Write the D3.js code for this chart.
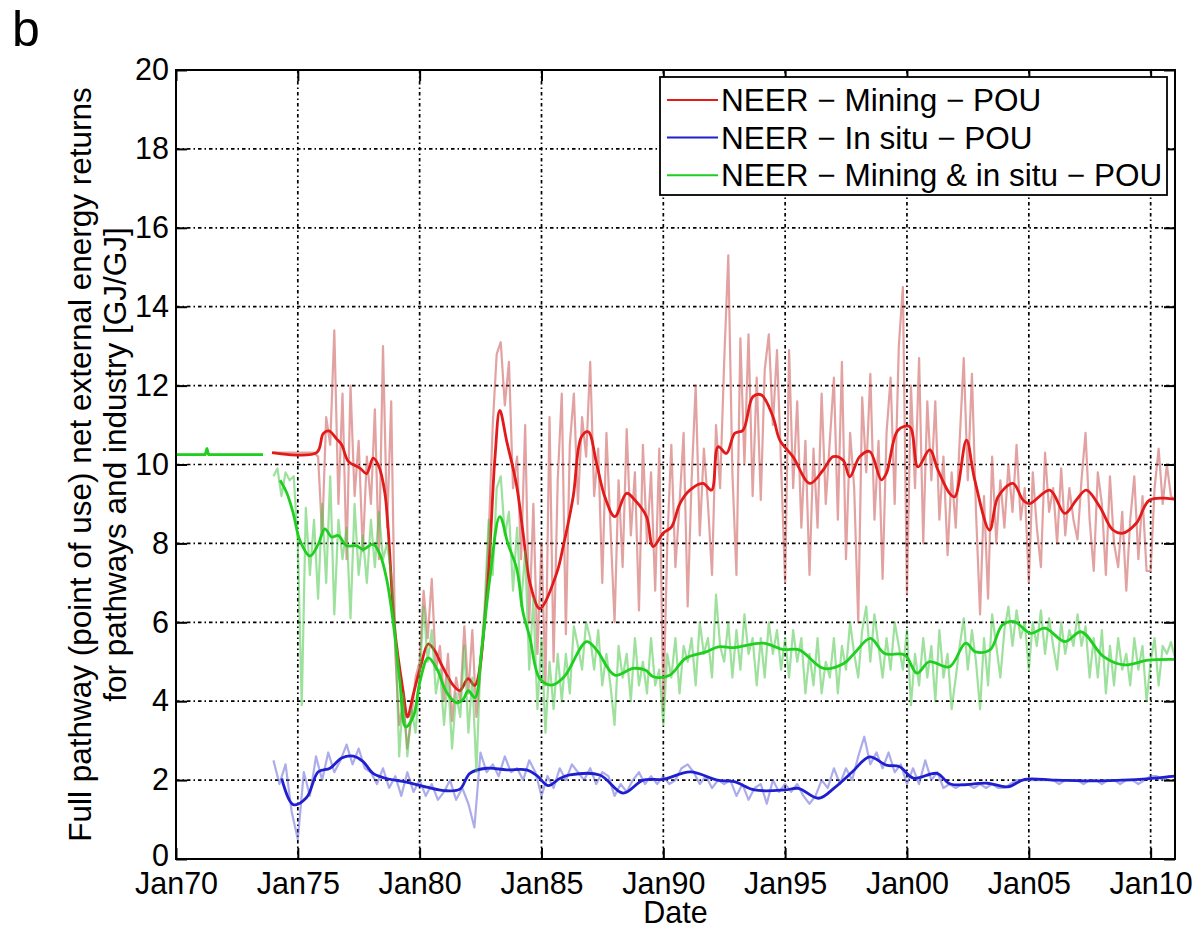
<!DOCTYPE html>
<html><head><meta charset="utf-8">
<script src="https://cdn.jsdelivr.net/npm/d3@7"></script>
<style>
body{margin:0;background:#fff;}
text{font-family:"Liberation Sans",Arial,Helvetica,sans-serif;fill:#000;}
</style></head>
<body>
<svg id="chart" width="1198" height="928"></svg>
<script>
// ---------------- DATA ----------------
const xTickYears = [1970,1975,1980,1985,1990,1995,2000,2005,2010];
const yTicks = [0,2,4,6,8,10,12,14,16,18,20];
const legendLabels = ["NEER \u2212 Mining \u2212 POU","NEER \u2212 In situ \u2212 POU","NEER \u2212 Mining & in situ \u2212 POU"];

// early flat segment (1970 - mid 1973), shared by mining & combined
const earlyFlat = [[1970.0,10.25],[1971.2,10.25],[1971.27,10.4],[1971.34,10.25],[1973.57,10.25]];

// raw bimonthly series starting Jan 1974
const rawStart = [1974,0];
const redRaw = [
10.3,10.3,10.3,10.3,10.3,10.3,
10.3,10.3,10.3,10.3,10.3,10.2,
8.2,11.2,10.5,13.4,9.0,11.8,
7.6,12.0,9.2,10.6,7.8,10.2,
9.0,11.4,7.6,13.0,8.4,11.6,
5.2,3.4,4.0,2.8,3.6,4.6,
5.0,6.8,5.6,7.1,4.8,5.4,
4.0,5.2,3.5,4.6,4.0,5.9,
4.2,5.8,3.6,4.8,6.0,8.2,
11.0,12.8,13.1,11.5,12.6,9.4,
10.2,7.6,11.0,6.0,9.0,5.2,
8.0,4.4,11.2,5.0,9.6,11.8,
5.7,10.5,11.8,9.0,11.2,10.2,
12.6,9.2,10.4,7.0,10.8,8.4,
6.0,9.6,7.4,10.9,8.2,9.8,
6.3,10.5,8.0,9.8,6.8,10.4,
3.8,8.0,10.5,7.4,9.0,10.8,
6.4,9.6,12.0,8.2,10.4,9.0,
7.2,11.0,9.4,12.6,15.3,9.8,
7.2,13.2,10.0,13.3,9.2,12.2,
9.1,12.4,13.3,11.0,12.9,10.0,
7.0,12.9,9.4,11.6,8.4,10.6,
7.2,10.4,8.4,11.8,9.0,10.6,
12.2,8.6,12.6,7.6,10.8,9.4,
6.0,11.7,9.8,12.3,8.6,10.6,
7.1,10.8,12.2,9.0,13.0,14.5,
6.7,12.0,9.4,12.7,8.0,11.6,
9.6,11.6,8.6,10.2,7.7,9.8,
8.4,10.6,12.7,9.6,12.3,8.8,
6.2,9.2,6.6,10.2,8.0,9.6,
8.4,10.0,8.8,10.5,8.6,9.4,
7.0,9.8,8.4,7.4,10.3,8.8,
9.4,8.0,9.9,8.2,9.4,8.6,
8.1,9.6,10.8,8.6,7.3,9.8,
9.0,7.2,9.7,8.0,7.4,8.8,
6.8,8.6,9.7,7.6,9.2,7.3,
7.3,9.4,10.4,9.0,10.0,9.2,
9.1];
const greenRaw = [
9.7,9.9,9.2,9.8,9.6,9.7,
8.0,3.9,8.9,7.2,8.6,6.6,
9.0,7.0,9.7,6.2,8.6,7.6,
8.4,6.1,9.0,7.2,8.2,7.0,
8.6,7.4,8.8,7.6,8.0,7.2,
5.8,2.6,4.2,2.6,3.8,3.2,
4.6,6.4,5.0,5.8,4.2,4.8,
3.4,4.6,2.8,4.2,3.6,5.4,
3.2,4.6,2.2,5.0,6.4,8.6,
7.2,9.4,9.7,8.2,8.8,6.8,
8.4,6.4,7.8,4.8,6.6,3.8,
5.6,3.2,5.0,3.8,5.2,4.0,
5.2,4.2,5.9,5.4,4.8,6.0,
5.6,4.8,5.8,4.4,5.2,4.4,
3.4,5.4,4.6,5.2,4.0,5.6,
4.4,5.0,4.2,5.6,4.4,4.8,
3.4,5.2,4.6,5.6,4.2,5.4,
5.0,5.6,4.4,6.0,5.2,5.6,
4.6,6.7,5.4,5.0,6.0,4.6,
5.8,4.8,6.2,5.2,5.6,4.4,
5.6,4.6,6.0,5.2,5.8,4.8,
5.6,4.6,5.8,5.0,5.6,4.2,
5.2,4.4,5.6,4.2,5.0,4.6,
5.6,4.2,5.4,4.8,6.0,5.2,
4.6,5.8,6.4,5.0,6.2,5.4,
4.6,5.6,4.8,6.0,5.4,4.8,
5.8,3.9,5.2,4.4,5.6,4.6,
5.4,4.0,5.8,4.6,5.2,3.8,
4.6,5.4,6.1,4.8,5.8,5.0,
3.8,5.6,4.4,6.2,5.4,4.6,
5.8,6.4,5.4,6.3,5.6,6.0,
4.8,6.0,5.4,6.3,5.2,6.1,
5.4,4.8,6.0,5.2,5.8,5.4,
6.2,5.4,5.9,4.6,5.6,4.6,
5.8,4.2,5.4,4.4,5.6,4.8,
5.2,4.4,5.6,4.8,5.4,4.0,
5.0,5.6,4.4,5.4,5.2,5.5,
5.1];
// raw quarterly series starting Jan 1974
const blueRaw = [
2.5,1.9,2.4,1.2,
0.5,2.2,1.6,2.6,
2.0,2.7,2.2,2.5,
2.9,2.4,2.8,2.3,
2.2,1.9,2.3,1.8,
2.1,1.6,2.2,1.7,
2.0,1.6,1.9,1.5,
1.7,2.0,1.5,1.8,
1.4,0.8,2.7,2.2,
2.4,2.1,2.6,2.2,
2.3,2.0,2.5,2.2,
1.6,2.1,1.8,2.3,
2.0,2.4,2.2,2.0,
2.3,1.9,2.2,2.1,
1.6,1.9,1.7,2.0,
2.2,1.9,2.1,1.9,
2.1,1.9,2.0,2.3,
2.4,2.2,1.9,2.1,
1.8,2.0,1.9,2.0,
1.6,1.9,1.5,1.8,
1.9,1.4,2.0,1.7,
1.9,1.7,1.9,1.6,
1.4,1.6,2.0,1.8,
2.3,1.9,2.3,2.0,
2.6,3.1,2.4,2.7,
2.3,2.7,2.2,2.4,
1.9,2.3,1.9,2.5,
2.0,2.2,1.8,1.9,
1.8,1.9,1.9,1.8,
1.9,1.8,1.9,1.8,
1.8,1.9,2.0,2.0,
2.0,2.0,2.0,2.0,
2.0,1.9,2.0,2.0,
2.0,1.9,2.0,2.0,
1.9,2.0,2.0,1.9,
2.0,2.0,1.9,2.0,
2.1,2.1,2.0,2.1,
2.1];

// smoothed series: [decimal year, value]
const redSmooth = [[1973.94,10.3],[1975.77,10.3],[1976.04,10.78],[1976.28,10.85],[1976.59,10.65],[1976.80,10.5],[1977.07,10.08],[1977.55,9.91],[1977.82,9.77],[1978.09,10.16],[1978.30,9.99],[1978.57,9.29],[1978.98,5.8],[1979.33,4.22],[1979.50,3.6],[1979.75,4.2],[1980.05,4.9],[1980.35,5.45],[1980.63,5.27],[1980.90,4.92],[1981.38,4.40],[1981.65,4.27],[1981.99,4.57],[1982.26,4.40],[1982.75,6.67],[1983.09,10.16],[1983.29,11.37],[1983.57,10.6],[1983.98,9.47],[1984.25,8.24],[1984.52,7.02],[1984.93,6.35],[1985.62,7.24],[1985.89,7.92],[1986.30,9.18],[1986.64,10.7],[1986.92,10.83],[1987.26,10.03],[1987.60,9.18],[1988.01,8.68],[1988.49,9.27],[1988.83,9.1],[1989.31,8.68],[1989.58,7.92],[1989.99,8.26],[1990.34,8.42],[1990.68,9.01],[1991.09,9.35],[1991.63,9.52],[1991.98,9.35],[1992.25,10.45],[1992.59,10.28],[1992.93,10.79],[1993.27,10.87],[1993.68,11.72],[1994.03,11.76],[1994.50,11.21],[1994.78,10.62],[1995.32,10.2],[1996.01,9.52],[1996.56,9.86],[1996.97,10.2],[1997.38,10.11],[1997.65,9.69],[1998.06,10.2],[1998.47,10.33],[1998.95,9.61],[1999.16,9.78],[1999.63,10.87],[2000.11,10.96],[2000.45,9.94],[2000.93,10.37],[2001.27,9.86],[2001.75,9.27],[2001.96,9.18],[2002.44,10.62],[2002.78,9.61],[2003.39,8.34],[2003.74,9.18],[2004.35,9.52],[2004.76,9.1],[2005.04,9.01],[2005.86,9.35],[2006.48,8.76],[2006.95,9.1],[2007.36,9.35],[2007.91,8.93],[2008.45,8.34],[2008.86,8.26],[2009.41,8.51],[2009.96,9.1],[2010.98,9.12]];
const blueSmooth = [[1974.34,2.04],[1974.81,1.38],[1975.36,1.56],[1975.84,2.21],[1976.32,2.3],[1976.80,2.56],[1977.27,2.61],[1977.68,2.47],[1978.09,2.17],[1978.64,2.04],[1979.46,1.95],[1980.29,1.82],[1981.11,1.73],[1981.65,1.77],[1982.06,2.17],[1982.75,2.3],[1983.57,2.26],[1984.39,2.26],[1984.80,2.12],[1985.27,1.86],[1985.75,2.04],[1986.16,2.13],[1987.39,2.13],[1988.35,1.67],[1989.17,2.0],[1990.0,2.02],[1991.11,2.21],[1992.22,2.0],[1992.91,1.96],[1993.74,1.75],[1994.99,1.75],[1995.54,1.79],[1996.38,1.54],[1997.07,1.83],[1997.76,2.21],[1998.46,2.59],[1999.15,2.38],[1999.70,2.34],[2000.26,2.05],[2001.23,2.17],[2001.78,1.9],[2003.30,1.92],[2004.14,1.83],[2004.83,2.02],[2006.08,2.0],[2007.88,1.98],[2009.96,2.04],[2010.98,2.1]];
const greenSmooth = [[1974.27,9.6],[1974.54,9.29],[1974.81,8.77],[1975.09,8.07],[1975.50,7.68],[1975.84,7.98],[1976.11,8.37],[1976.39,8.16],[1976.66,8.2],[1977.00,7.94],[1977.41,7.94],[1977.68,7.85],[1978.09,7.98],[1978.37,7.72],[1978.64,7.11],[1978.92,5.97],[1979.19,4.49],[1979.42,3.35],[1979.74,3.61],[1980.01,4.49],[1980.35,5.1],[1980.70,4.83],[1981.11,4.22],[1981.52,3.96],[1981.79,4.05],[1981.99,4.27],[1982.27,4.09],[1982.54,5.27],[1982.88,7.11],[1983.29,8.68],[1983.63,7.98],[1983.98,7.37],[1984.25,6.23],[1984.52,5.62],[1984.93,4.57],[1985.43,4.41],[1985.93,4.62],[1986.85,5.51],[1987.26,5.3],[1988.01,4.66],[1988.76,4.83],[1989.26,4.79],[1989.59,4.62],[1990.26,4.66],[1990.92,5.09],[1991.76,5.25],[1992.26,5.38],[1992.92,5.36],[1994.09,5.47],[1994.92,5.31],[1995.58,5.3],[1996.58,4.83],[1997.42,4.96],[1997.83,5.21],[1998.50,5.59],[1999.08,5.21],[1999.91,5.17],[2000.41,4.71],[2000.91,5.0],[2001.74,4.87],[2002.41,5.47],[2002.82,5.25],[2003.41,5.3],[2003.91,5.93],[2004.40,6.02],[2005.07,5.72],[2005.66,5.85],[2006.49,5.51],[2007.15,5.76],[2008.07,5.13],[2008.90,4.92],[2009.90,5.04],[2010.98,5.06]];

// ---------------- CHART ----------------
const svg = d3.select("#chart");
const L=176, R=1175, T=70, B=859;
const FONT = 30.5;

function yearToDate(yv){
  const yr = Math.floor(yv);
  const s = new Date(yr,0,1), e = new Date(yr+1,0,1);
  return new Date(+s + (yv-yr)*(e-s));
}
const x = d3.scaleTime().domain([new Date(1970,0,1), new Date(2011,0,1)]).range([L,R]);
const y = d3.scaleLinear().domain([0,20]).range([B,T]);

const xTickDates = xTickYears.map(v=>new Date(v,0,1));

// grid
const grid = svg.append("g").attr("stroke","#000").attr("stroke-width",1.7)
  .attr("stroke-dasharray","3.5,3,1.5,3");
grid.selectAll("line.v").data(xTickDates.slice(1)).join("line")
  .attr("x1",d=>x(d)).attr("x2",d=>x(d)).attr("y1",T).attr("y2",B);
grid.selectAll("line.h").data(yTicks.slice(1,-1)).join("line")
  .attr("x1",L).attr("x2",R).attr("y1",d=>y(d)).attr("y2",d=>y(d));

// series
const rawDate = (i,step)=>d3.timeMonth.offset(new Date(rawStart[0],rawStart[1],1), i*step);
const lineRaw = d3.line().x(d=>x(d[0])).y(d=>y(d[1]));
const lineSmooth = d3.line().x(d=>x(d[0])).y(d=>y(d[1])).curve(d3.curveCatmullRom.alpha(0.5));
const redRawPts = redRaw.map((v,i)=>[rawDate(i,2),v]);
const greenRawPts = greenRaw.map((v,i)=>[rawDate(i,2),v]);
const blueRawPts = blueRaw.map((v,i)=>[rawDate(i,3),v]);
const toPts = arr => arr.map(d=>[yearToDate(d[0]), d[1]]);

const plot = svg.append("g");
function path(gen, pts, color, w, op){
  plot.append("path").attr("d",gen(pts)).attr("fill","none")
    .attr("stroke",color).attr("stroke-width",w).attr("stroke-opacity",op)
    .attr("stroke-linejoin","round");
}
path(lineRaw, redRawPts, "rgb(200,70,70)", 2.2, 0.5);
path(lineSmooth, toPts(redSmooth), "#e31a1a", 2.8, 1);
path(lineRaw, blueRawPts, "rgb(90,90,215)", 2.2, 0.5);
path(lineSmooth, toPts(blueSmooth), "#1f1fd0", 2.8, 1);
path(lineRaw, toPts(earlyFlat), "rgb(60,200,60)", 2.2, 0.5);
path(lineRaw, greenRawPts, "rgb(60,195,60)", 2.2, 0.5);
path(lineRaw, toPts(earlyFlat), "#1fcf1f", 2.8, 1);
path(lineSmooth, toPts(greenSmooth), "#1fcf1f", 2.8, 1);

// axes
const TK = 11;
const axB = svg.append("g").attr("transform",`translate(0,${B})`)
  .call(d3.axisBottom(x).tickValues(xTickDates).tickFormat(d3.timeFormat("Jan%y")).tickSizeInner(-TK).tickSizeOuter(0).tickPadding(13));
const axT = svg.append("g").attr("transform",`translate(0,${T})`)
  .call(d3.axisTop(x).tickValues(xTickDates).tickFormat("").tickSizeInner(-TK).tickSizeOuter(0));
const axLft = svg.append("g").attr("transform",`translate(${L},0)`)
  .call(d3.axisLeft(y).tickValues(yTicks).tickSizeInner(-TK).tickSizeOuter(0).tickPadding(7));
const axRt = svg.append("g").attr("transform",`translate(${R},0)`)
  .call(d3.axisRight(y).tickValues(yTicks).tickFormat("").tickSizeInner(-TK).tickSizeOuter(0));
[axB,axT,axLft,axRt].forEach(a=>{
  a.select(".domain").remove();
  a.selectAll(".tick line").attr("stroke","#000").attr("stroke-width",2);
  a.selectAll("text").attr("font-size",FONT).attr("font-family",null).attr("fill","#000");
});
// lift the "0" label slightly, as in the reference
axLft.selectAll(".tick text").filter(d=>d===0).attr("dy","0.2em");
svg.append("rect").attr("x",L).attr("y",T).attr("width",R-L).attr("height",B-T)
  .attr("fill","none").attr("stroke","#000").attr("stroke-width",2);

// axis titles
svg.append("text").attr("x",(L+R)/2).attr("y",923).attr("text-anchor","middle")
  .attr("font-size",FONT).text("Date");
const yt = svg.append("text").attr("transform",`translate(0,${(T+B)/2}) rotate(-90)`)
  .attr("text-anchor","middle").attr("font-size",31.5);
yt.append("tspan").attr("x",0).attr("y",91).text("Full pathway (point of use) net external energy returns");
yt.append("tspan").attr("x",0).attr("y",126).text("for pathways and industry [GJ/GJ]");

// panel letter
svg.append("text").attr("x",12).attr("y",46).attr("font-size",50).text("b");

// legend
const lg = svg.append("g");
lg.append("rect").attr("x",660).attr("y",77).attr("width",507).attr("height",118)
  .attr("fill","#fff").attr("stroke","#000").attr("stroke-width",1.8);
const lgColors = ["#e31a1a","#1f1fd0","#1fcf1f"];
legendLabels.forEach((lab,i)=>{
  const yy = 100 + i*37.6;
  lg.append("line").attr("x1",667).attr("x2",718).attr("y1",yy).attr("y2",yy)
    .attr("stroke",lgColors[i]).attr("stroke-width",2);
  lg.append("text").attr("x",721).attr("y",yy+11).attr("font-size",31.5).text(lab);
});
</script>
</body></html>
